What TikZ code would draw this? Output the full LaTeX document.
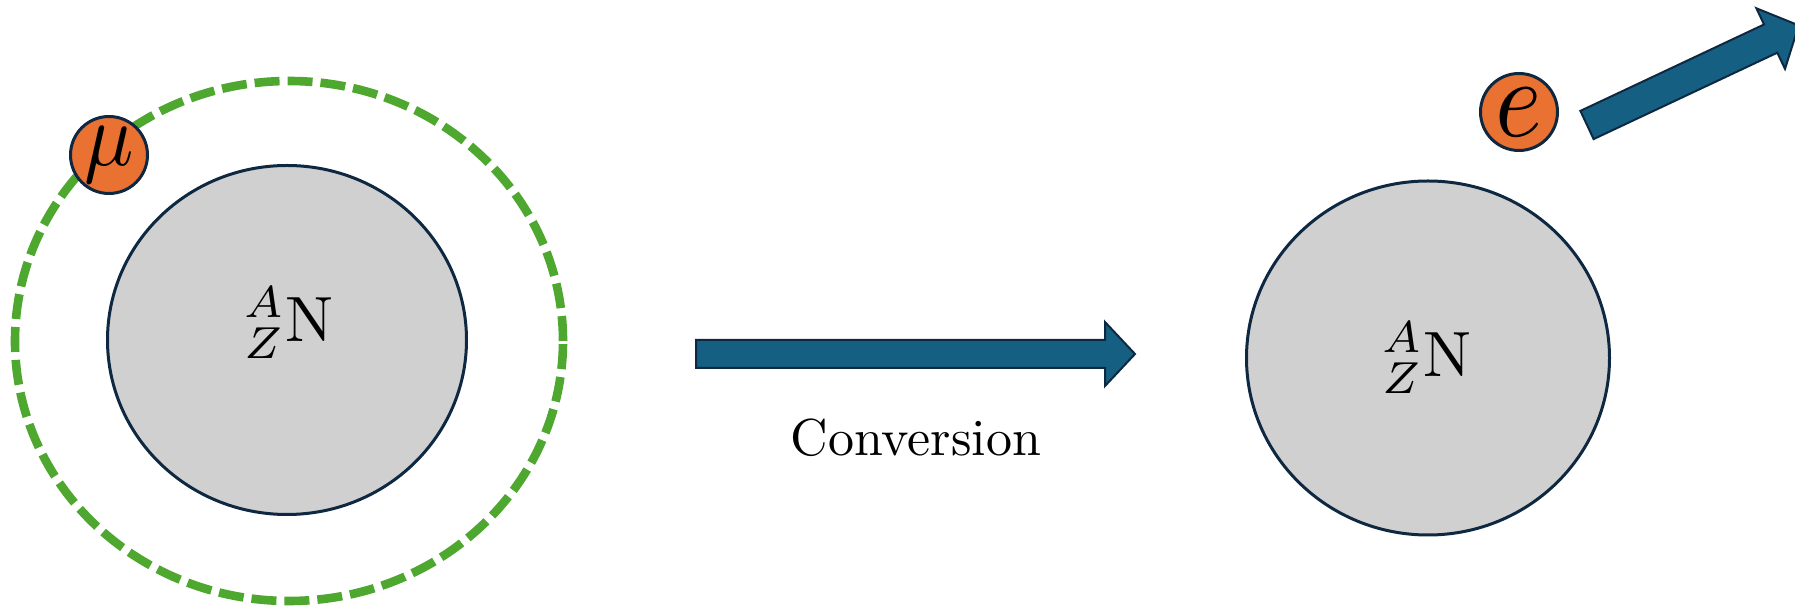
\RequirePackage{fix-cm}
\documentclass[tikz,border=0pt]{standalone}
\usetikzlibrary{shapes.geometric}
\definecolor{outl}{HTML}{0E2841}
\definecolor{porange}{HTML}{E97132}
\definecolor{pblue}{HTML}{156082}
\definecolor{pgreen}{HTML}{4EA72E}
\definecolor{ngray}{HTML}{D0D0D0}
\begin{document}
\begin{tikzpicture}[x=0.5pt,y=-0.5pt,
  nucleus/.style={ellipse,draw=outl,line width=1.5pt,fill=ngray,inner sep=0pt},
  particle/.style={circle,draw=outl,line width=1.5pt,fill=porange,minimum size=38.5pt,inner sep=0pt},
  orbitline/.style={ellipse,draw=pgreen,line width=4.3pt,dash pattern=on 12.5pt off 4pt,minimum width=274pt,minimum height=260pt,inner sep=0pt},
  procarrow/.style={draw=outl,line width=1pt,fill=pblue},
  lbl/.style={inner sep=0pt}]
\useasboundingbox (0,0) rectangle (1795,613);
% left: muonic atom
\node[orbitline] (orbit) at (289,341) {};
\node[nucleus,minimum width=179.5pt,minimum height=174.5pt] (nuc1) at (287,340) {};
\node[lbl] (lab1) at (289,323) {\scalebox{3.2}{${}^{A}_{Z}\mathrm{N}$}};
\node[particle] (mu) at (109,155) {\scalebox{4.1}[4.5]{$\mu$}};
% conversion arrow
\coordinate (a1s) at (696,354);
\coordinate (a1t) at (1135,354);
\draw[procarrow] (696,340) -- (1105,340) -- (1105,322) -- (a1t) -- (1105,386) -- (1105,368) -- (696,368) -- cycle;
\node[anchor=base,inner sep=0pt] (conv) at (916,456) {\scalebox{2.6}{Conversion}};
% right: nucleus and electron
\node[nucleus,minimum width=181.5pt,minimum height=177pt] (nuc2) at (1428,358) {};
\node[lbl] (lab2) at (1427,358) {\scalebox{3.2}{${}^{A}_{Z}\mathrm{N}$}};
\node[particle] (el) at (1519,112) {\scalebox{5.0}[5.6]{$e$}};
\begin{scope}
\clip (0,0) rectangle (1795,613);
\draw[procarrow] (1580.4,110.9) -- (1764.0,24.5) -- (1756.4,8.3) -- (1798.7,25.4) -- (1785.0,68.9) -- (1777.3,52.7) -- (1593.6,139.1) -- cycle;
\end{scope}
\end{tikzpicture}
\end{document}
